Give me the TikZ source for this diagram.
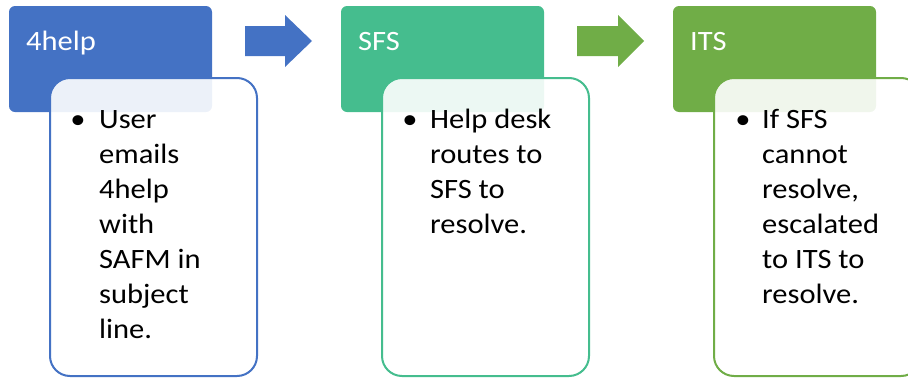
\documentclass[tikz,border=0pt]{standalone}
\usepackage{fontspec}
\setmainfont{Carlito}
\definecolor{cblue}{HTML}{4472C4}
\definecolor{cteal}{HTML}{45BD8E}
\definecolor{cgreen}{HTML}{70AD47}
\newcommand{\wide}[1]{\scalebox{1.09}[1]{#1}}
\begin{document}
\begin{tikzpicture}[x=1pt,y=-1pt,
  head/.style={rounded corners=6pt},
  body/.style={rounded corners=20pt, line width=2pt, fill=white, fill opacity=0.9, text opacity=1},
  htext/.style={anchor=base west, inner sep=0pt, text=white, font=\fontsize{28}{34}\selectfont},
  btext/.style={anchor=base west, inner sep=0pt, font=\fontsize{28}{35}\selectfont},
  bul/.style={anchor=base, inner sep=0pt, font=\fontsize{28}{35}\selectfont}]
\useasboundingbox (0,0) rectangle (908,378);
% box 1
\fill[cblue,head] (9,6) rectangle (212,112);
\draw[cblue,body] (50,78) rectangle (257,376);
\node[htext] (h1) at (26,50) {\wide{4help}};
\node[bul] (b1) at (78,128) {\wide{•}};
\node[btext] (t1) at (99,128) {\parbox[t]{150pt}{\fontsize{28}{35}\selectfont \wide{User}\\\wide{emails}\\\wide{4help}\\\wide{with}\\\wide{SAFM in}\\\wide{subject}\\\wide{line.}}};
% arrow 1
\fill[cblue] (245,26) -- (285,26) -- (285,15) -- (312,41) -- (285,67) -- (285,56) -- (245,56) -- cycle;
% box 2
\fill[cteal,head] (341,6) rectangle (544,112);
\draw[cteal,body] (382,78) rectangle (589,376);
\node[htext] (h2) at (358,50) {\wide{SFS}};
\node[bul] (b2) at (410,128) {\wide{•}};
\node[btext] (t2) at (430,128) {\parbox[t]{150pt}{\fontsize{28}{35}\selectfont \wide{Help desk}\\\wide{routes to}\\\wide{SFS to}\\\wide{resolve.}}};
% arrow 2
\fill[cgreen] (577,26) -- (618,26) -- (618,15) -- (644,41) -- (618,67) -- (618,56) -- (577,56) -- cycle;
% box 3
\fill[cgreen,head] (673,6) rectangle (876,112);
\draw[cgreen,body] (714,78) rectangle (921,376);
\node[htext] (h3) at (690,50) {\wide{ITS}};
\node[bul] (b3) at (743,128) {\wide{•}};
\node[btext] (t3) at (762,128) {\parbox[t]{150pt}{\fontsize{28}{35}\selectfont \wide{If SFS}\\\wide{cannot}\\\wide{resolve,}\\\wide{escalated}\\\wide{to ITS to}\\\wide{resolve.}}};
\end{tikzpicture}
\end{document}
